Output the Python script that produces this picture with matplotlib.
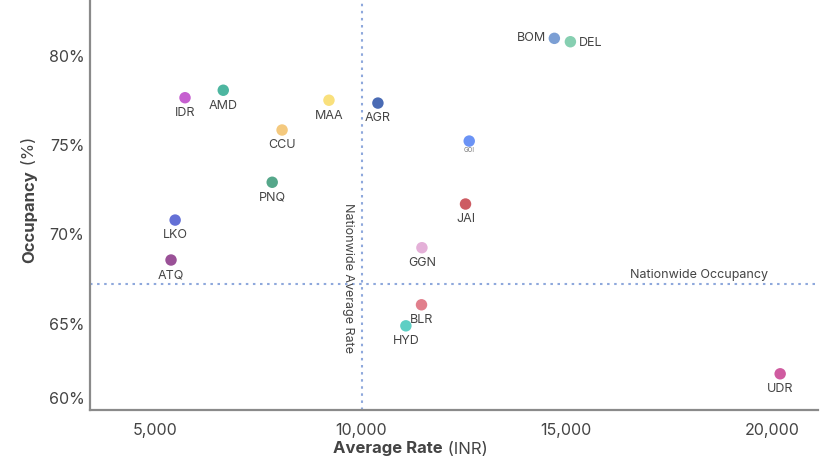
import matplotlib
matplotlib.use("Agg")
import matplotlib.pyplot as plt

# === Data: city average room rate (INR) vs occupancy (%) ===
cities = ["IDR", "AMD", "MAA", "AGR", "CCU", "PNQ", "LKO", "ATQ",
          "BOM", "DEL", "GOI", "JAI", "GGN", "BLR", "HYD", "UDR"]
avg_rate = [5730, 6660, 9230, 10420, 8090, 7850, 5490, 5390,
            14710, 15100, 12640, 12550, 11490, 11480, 11100, 20200]
occupancy = [77.66, 78.08, 77.52, 77.36, 75.85, 72.92, 70.80, 68.56,
             80.99, 80.80, 75.23, 71.70, 69.25, 66.05, 64.87, 62.18]
colors = ["#c660d0", "#4db6a0", "#f9e07c", "#4a6bb4", "#f4c97e", "#55a78a",
          "#6470d6", "#9a5197", "#7c9fd4", "#86cfb1", "#6b93f5", "#cd5c63",
          "#e4b0d8", "#e17f8c", "#5ecfc4", "#cf5ba0"]

nationwide_rate = 10030
nationwide_occ = 67.2

x_ticks = [5000, 10000, 15000, 20000]
y_ticks = [60, 65, 70, 75, 80]

plt.rcParams["font.family"] = ["Inter", "DejaVu Sans"]
text_col = "#444444"
guide_col = "#8ea8dc"

fig = plt.figure(figsize=(8.34, 4.62), dpi=100)
ax = fig.add_axes([90 / 834, 1 - 410 / 462, 728 / 834, 410 / 462])

ax.scatter(avg_rate, occupancy, s=68, c=colors, zorder=3, linewidths=0)

# label placement: most below the dot, a few beside it
for name, x, y in zip(cities, avg_rate, occupancy):
    if name == "BOM":
        ax.annotate(name, (x, y), xytext=(-6, 0), textcoords="offset points",
                    ha="right", va="center", fontsize=9, color=text_col)
    elif name == "DEL":
        ax.annotate(name, (x, y), xytext=(6, -1), textcoords="offset points",
                    ha="left", va="center", fontsize=9, color=text_col)
    elif name == "GOI":
        ax.annotate(name, (x, y), xytext=(0, -6.5), textcoords="offset points",
                    ha="center", va="center", fontsize=4.5, color="#777777")
    else:
        ax.annotate(name, (x, y), xytext=(0, -11), textcoords="offset points",
                    ha="center", va="center", fontsize=9, color=text_col)

# nationwide reference lines
ax.axvline(nationwide_rate, color=guide_col, lw=1.5, ls=(0, (1.2, 2.2)), zorder=1)
ax.axhline(nationwide_occ, color=guide_col, lw=1.5, ls=(0, (1.2, 2.2)), zorder=1)
ax.annotate("Nationwide Average Rate", (nationwide_rate, 0.322),
            xycoords=("data", "axes fraction"), xytext=(-10, 0),
            textcoords="offset points", rotation=270, ha="center", va="center",
            fontsize=9, color=text_col)
ax.annotate("Nationwide Occupancy", (0.931, nationwide_occ),
            xycoords=("axes fraction", "data"), xytext=(0, 7),
            textcoords="offset points", ha="right", va="center",
            fontsize=9, color=text_col)

ax.set_xlim(3420, 21120)
ax.set_ylim(60.15, 83.14)
ax.set_xticks(x_ticks, [f"{v:,}" for v in x_ticks])
# bottom label pulled up so it stays inside the axis range
ax.set_yticks([max(v, 60.85) for v in y_ticks], [f"{v}%" for v in y_ticks])
ax.tick_params(axis="both", length=0, labelsize=11.5, labelcolor=text_col)
ax.tick_params(axis="x", pad=9)
ax.tick_params(axis="y", pad=4)

for side in ["top", "right"]:
    ax.spines[side].set_visible(False)
for side in ["left", "bottom"]:
    ax.spines[side].set_color("#8a8a8a")
    ax.spines[side].set_linewidth(1.6)

# axis titles: bold name + regular unit
xl = fig.text(333 / 834, 1 - 449 / 462, "Average Rate", fontsize=12,
              fontweight="bold", color=text_col, ha="left", va="center")
ax.annotate(" (INR)", xy=(1, 0.5), xycoords=xl, ha="left", va="center",
            fontsize=12, color=text_col)
yl = fig.text(30 / 834, 1 - 263 / 462, "Occupancy", fontsize=12,
              fontweight="bold", color=text_col, rotation=90,
              ha="center", va="bottom")
ax.annotate(" (%)", xy=(0.5, 1), xycoords=yl, ha="center", va="bottom",
            rotation=90, fontsize=12, color=text_col)

fig.savefig("out.png", dpi=100)
